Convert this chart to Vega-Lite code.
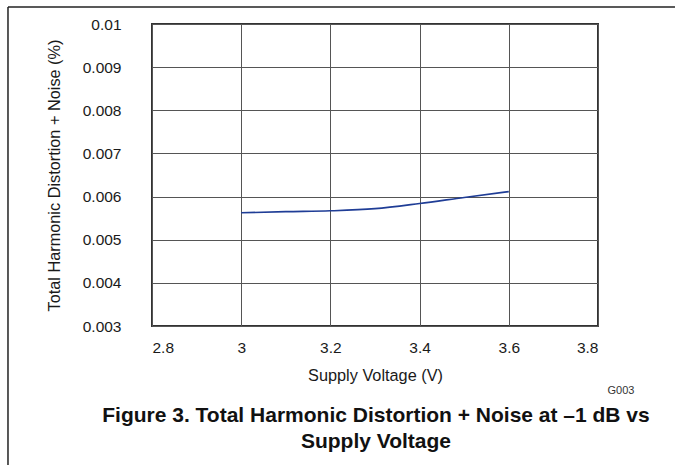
{
  "$schema": "https://vega.github.io/schema/vega-lite/v6.json",
  "width": 446,
  "height": 302,
  "autosize": "none",
  "padding": {"left": 152, "top": 24, "right": 77, "bottom": 139},
  "background": "white",
  "config": {
    "font": "Liberation Sans",
    "view": {"stroke": "#333333", "strokeWidth": 2},
    "axis": {"labelFont": "Liberation Sans", "titleFont": "Liberation Sans", "labelFontSize": 15.5, "titleFontSize": 16.3, "labelColor": "#1a1a1a", "titleColor": "#1a1a1a", "titleFontWeight": "normal", "gridColor": "#555555", "gridOpacity": 1, "gridWidth": 1, "ticks": false, "domain": false}
  },
  "datasets": {
    "thd": [
      {"v": 3.0, "thd": 0.005624},
      {"v": 3.1, "thd": 0.00565},
      {"v": 3.2, "thd": 0.00567},
      {"v": 3.3, "thd": 0.00572},
      {"v": 3.4, "thd": 0.00584},
      {"v": 3.5, "thd": 0.00598},
      {"v": 3.6, "thd": 0.006115}
    ],
    "frameTop": [{"x1": 2.4771, "x2": 3.9726, "y": 0.010394}],
    "frameLeft": [{"x": 2.4771, "y1": 0.010394, "y2": -0.000222}],
    "tag": [{"x": 3.8516, "y": 0.001493, "t": "G003"}],
    "caption": [{"x": 3.3022, "y": 0.000782, "t": ["Figure 3. Total Harmonic Distortion + Noise at –1 dB vs", "Supply Voltage"]}]
  },
  "layer": [
    {
      "data": {"name": "thd"},
      "mark": {"type": "line", "color": "#1f3d96", "strokeWidth": 1.6, "interpolate": "monotone"},
      "encoding": {
        "x": {"field": "v", "type": "quantitative", "scale": {"domain": [2.8, 3.8], "nice": false, "zero": false},
              "axis": {"title": "Supply Voltage (V)", "values": [2.8, 3.0, 3.2, 3.4, 3.6, 3.8], "format": "~g", "labelPadding": 14.5, "titlePadding": 11}},
        "y": {"field": "thd", "type": "quantitative", "scale": {"domain": [0.003, 0.01], "nice": false, "zero": false},
              "axis": {"title": "Total Harmonic Distortion + Noise (%)", "values": [0.003, 0.004, 0.005, 0.006, 0.007, 0.008, 0.009, 0.01], "format": "~g", "labelPadding": 31, "titlePadding": 20}}
      }
    },
    {
      "data": {"name": "frameTop"},
      "mark": {"type": "rule", "color": "#222222", "strokeWidth": 1.5, "clip": false},
      "encoding": {
        "x": {"field": "x1", "type": "quantitative"},
        "x2": {"field": "x2"},
        "y": {"field": "y", "type": "quantitative"}
      }
    },
    {
      "data": {"name": "frameLeft"},
      "mark": {"type": "rule", "color": "#222222", "strokeWidth": 1.5, "clip": false},
      "encoding": {
        "x": {"field": "x", "type": "quantitative"},
        "y": {"field": "y1", "type": "quantitative"},
        "y2": {"field": "y2"}
      }
    },
    {
      "data": {"name": "tag"},
      "mark": {"type": "text", "font": "Liberation Sans", "fontSize": 11, "color": "#333333", "clip": false},
      "encoding": {
        "x": {"field": "x", "type": "quantitative"},
        "y": {"field": "y", "type": "quantitative"},
        "text": {"field": "t"}
      }
    },
    {
      "data": {"name": "caption"},
      "mark": {"type": "text", "font": "Liberation Sans", "fontSize": 21, "fontWeight": "bold", "color": "#111111", "baseline": "alphabetic", "align": "center", "lineHeight": 26.3, "clip": false},
      "encoding": {
        "x": {"field": "x", "type": "quantitative"},
        "y": {"field": "y", "type": "quantitative"},
        "text": {"field": "t"}
      }
    }
  ]
}
